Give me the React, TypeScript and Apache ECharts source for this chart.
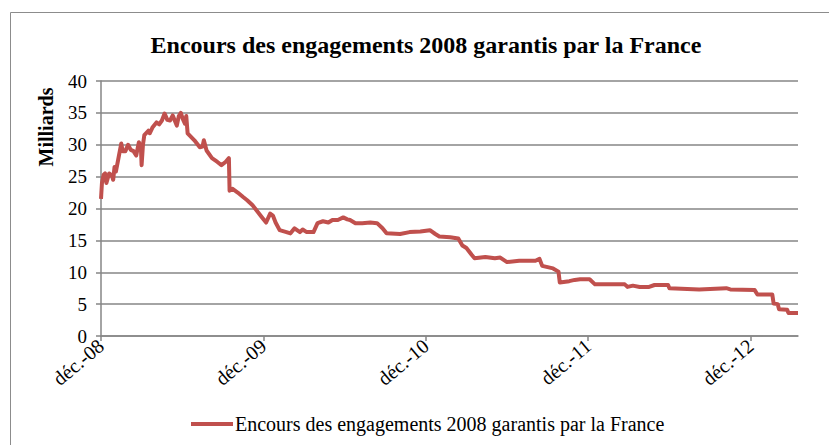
import React, { useEffect, useRef } from "react";
import * as echarts from "echarts";

const titleText = "Encours des engagements 2008 garantis par la France";
const seriesName = "Encours des engagements 2008 garantis par la France";
const yAxisTitle = "Milliards";
const xTickLabels = ["déc.-08", "déc.-09", "déc.-10", "déc.-11", "déc.-12"];
const xTickMonths = [0, 12, 24, 36, 48];

// months elapsed since December 2008
const months = [
  0.0, 0.07, 0.2, 0.3, 0.4, 0.6, 0.8, 0.9, 1.0, 1.1, 1.3, 1.5, 1.6, 1.8, 2.0, 2.2, 2.4, 2.6, 2.8, 2.95,
  3.0, 3.1, 3.2, 3.5, 3.6, 3.8, 4.1, 4.3, 4.5, 4.7, 4.9, 5.1, 5.3, 5.45, 5.6, 5.75, 5.9, 6.05, 6.2, 6.3,
  6.4, 6.9, 7.3, 7.5, 7.6, 7.8, 8.2, 8.6, 8.9, 9.2, 9.45, 9.5, 9.7, 10.1, 10.5, 10.8, 11.2, 11.5, 11.9, 12.2,
  12.5, 12.7, 12.9, 13.2, 13.7, 14.0, 14.3, 14.7, 14.9, 15.2, 15.7, 16.0, 16.4, 16.8, 17.1, 17.5, 17.9, 18.2, 18.4, 18.8,
  19.3, 19.9, 20.4, 20.8, 21.1, 22.1, 22.8, 23.6, 24.3, 24.7, 25.0, 25.8, 26.4, 26.7, 27.0, 27.4, 27.6, 28.4, 29.1, 29.5,
  30.0, 30.9, 32.1, 32.4, 32.6, 33.4, 33.8, 33.9, 34.6, 35.0, 35.4, 36.1, 36.5, 37.6, 38.7, 38.9, 39.3, 39.8, 40.5, 40.9,
  41.9, 42.0, 44.2, 46.2, 46.5, 48.3, 48.5, 49.6, 49.7, 50.0, 50.1, 50.7, 50.8, 51.5,
];

// outstanding amount, billions of euros
const encours = [
  21.5, 24.0, 25.3, 25.5, 24.0, 25.5, 25.2, 24.5, 26.5, 25.8, 28.0, 30.2, 29.0, 29.0, 30.0, 29.2, 29.0, 28.3, 30.4, 29.5,
  26.8, 30.0, 31.5, 32.2, 31.8, 32.7, 33.5, 33.2, 33.8, 34.9, 33.9, 33.8, 34.6, 33.8, 33.0, 34.5, 35.0, 34.0, 33.3, 34.5,
  31.8, 30.7, 29.6, 29.7, 30.7, 29.1, 27.9, 27.3, 26.8, 27.3, 27.9, 22.8, 23.1, 22.5, 21.8, 21.3, 20.5, 19.7, 18.6, 17.8,
  19.2, 18.9, 17.8, 16.6, 16.3, 16.1, 16.9, 16.3, 16.7, 16.3, 16.3, 17.7, 18.0, 17.8, 18.2, 18.2, 18.6, 18.3, 18.2, 17.7,
  17.7, 17.8, 17.7, 16.9, 16.1, 16.0, 16.3, 16.4, 16.6, 16.0, 15.6, 15.5, 15.3, 14.2, 13.8, 12.7, 12.2, 12.4, 12.2, 12.3,
  11.6, 11.8, 11.8, 12.1, 11.0, 10.6, 10.1, 8.4, 8.6, 8.8, 8.9, 8.9, 8.1, 8.1, 8.1, 7.7, 7.9, 7.7, 7.7, 8.0,
  8.0, 7.5, 7.3, 7.5, 7.3, 7.2, 6.5, 6.5, 5.1, 5.0, 4.2, 4.1, 3.6, 3.6,
];

const xMaxMonths = 51.5;

export default function App() {
  const ref = useRef<HTMLDivElement>(null);
  useEffect(() => {
    if (!ref.current) return;
    const chart = echarts.init(ref.current, undefined, { renderer: "svg" });
    const font = "Liberation Serif";
    const data = months.map((m, i) => [m, encours[i]]);
    chart.setOption({
      animation: false,
      backgroundColor: "#ffffff",
      textStyle: { fontFamily: font },
      grid: { left: 101, top: 81, right: 31, bottom: 109, containLabel: false },
      legend: {
        left: 186,
        top: 409,
        icon: "rect",
        itemWidth: 42,
        itemHeight: 4,
        textStyle: { fontFamily: font, fontSize: 20, color: "#000", padding: [0, 0, 0, -3] },
        data: [seriesName],
      },
      graphic: [
        {
          type: "rect",
          shape: { x: 10.5, y: 12.5, width: 840, height: 450 },
          style: { fill: "none", stroke: "#8c8c8c", lineWidth: 1 },
          silent: true,
        },
        {
          type: "text",
          x: 426,
          y: 45,
          style: {
            text: titleText,
            fontFamily: font,
            fontSize: 24,
            fontWeight: "bold",
            fill: "#000",
            align: "center",
            verticalAlign: "middle",
          },
        },
        {
          type: "text",
          x: 46,
          y: 127,
          rotation: Math.PI / 2,
          style: {
            text: yAxisTitle,
            fontFamily: font,
            fontSize: 20,
            fontWeight: "bold",
            fill: "#000",
            align: "center",
            verticalAlign: "middle",
          },
        },
      ],
      xAxis: {
        type: "value",
        min: 0,
        max: xMaxMonths,
        interval: 12,
        splitLine: { show: false },
        axisLine: { show: true, lineStyle: { color: "#868686", width: 1.5 } },
        axisTick: {
          show: true,
          length: 5,
          customValues: xTickMonths,
          lineStyle: { color: "#868686", width: 1.5 },
        },
        axisLabel: {
          rotate: 40,
          margin: 7,
          fontFamily: font,
          fontSize: 20,
          color: "#000",
          customValues: xTickMonths,
          formatter: (v: number) => {
            const i = xTickMonths.indexOf(Math.round(v));
            return i >= 0 ? xTickLabels[i] : "";
          },
        },
      },
      yAxis: {
        type: "value",
        min: 0,
        max: 40,
        interval: 5,
        axisLine: { show: true, lineStyle: { color: "#868686", width: 1.5 } },
        axisTick: { show: true, inside: false, length: 5, lineStyle: { color: "#868686", width: 1.5 } },
        splitLine: { show: true, lineStyle: { color: "#868686", width: 1.5 } },
        axisLabel: { fontFamily: font, fontSize: 19, color: "#000", margin: 14 },
      },
      series: [
        {
          name: seriesName,
          type: "line",
          data,
          showSymbol: false,
          symbol: "none",
          color: "#C0504D",
          lineStyle: { color: "#C0504D", width: 4, join: "round" },
        },
      ],
    });
    return () => chart.dispose();
  }, []);
  return (
    <div
      ref={ref}
      style={{ position: "fixed", left: 0, top: 0, width: 829, height: 445, background: "#fff" }}
    />
  );
}
